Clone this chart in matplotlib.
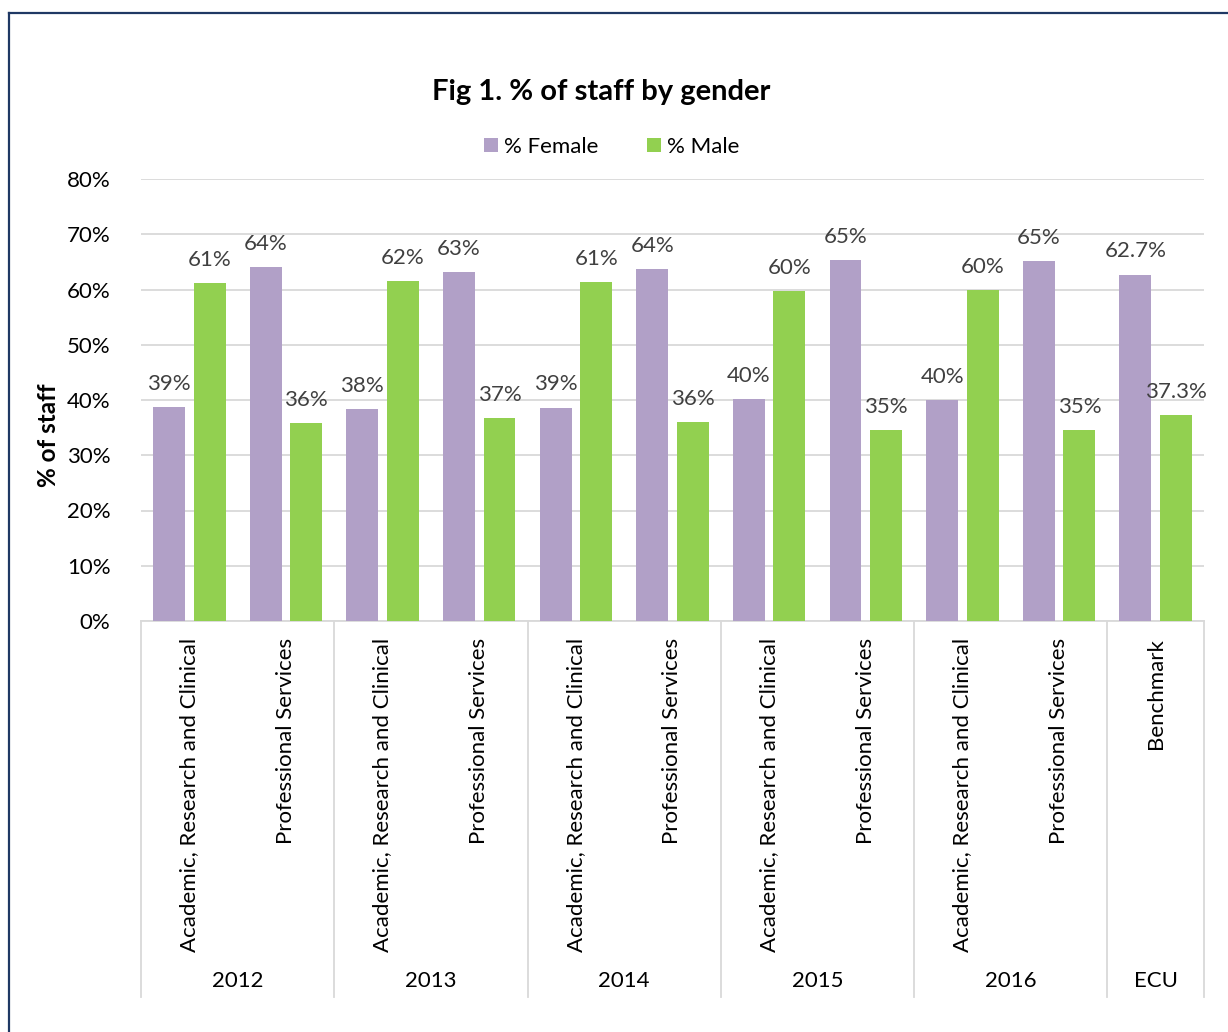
import matplotlib.pyplot as plt
import matplotlib.transforms as mtransforms
from matplotlib.lines import Line2D
import numpy as np

# data
groups = ['2012', '2013', '2014', '2015', '2016', 'ECU']
group_sizes = [2, 2, 2, 2, 2, 1]
categories = ['Academic, Research and Clinical', 'Professional Services'] * 5 + ['Benchmark']
female = [38.7, 64.1, 38.4, 63.2, 38.6, 63.7, 40.2, 65.3, 40.0, 65.2, 62.7]
male = [61.2, 35.8, 61.5, 36.7, 61.4, 36.0, 59.7, 34.6, 59.9, 34.6, 37.3]
label_decimals = [0] * 10 + [1]

c_female = '#B1A0C7'
c_male = '#92D050'

plt.rcParams['font.family'] = ['Lato', 'DejaVu Sans']

fig = plt.figure(figsize=(12.28, 10.32), dpi=100)
ax = fig.add_axes([141/1228, 1 - 621/1032, (1204-141)/1228, (621-179)/1032])

x = np.arange(len(categories))
w = 0.33
off = 0.21
ax.bar(x - off, female, w, color=c_female, label='% Female', zorder=3)
ax.bar(x + off, male, w, color=c_male, label='% Male', zorder=3)

for xi, f, m, d in zip(x, female, male, label_decimals):
    ax.text(xi - off, f + 2.4, f'{f:.{d}f}%', ha='center', va='bottom', fontsize=16, color='#404040')
    ax.text(xi + off, m + 2.4, f'{m:.{d}f}%', ha='center', va='bottom', fontsize=16, color='#404040')

ax.set_xlim(-0.5, len(categories) - 0.5)
ax.set_ylim(0, 80)
ax.set_yticks(range(0, 81, 10))
ax.set_yticklabels([f'{v}%' for v in range(0, 81, 10)], fontsize=16)
ax.yaxis.grid(True, color='#D9D9D9', linewidth=1.3, zorder=0)
ax.tick_params(axis='y', length=0, pad=22)
for s in ['top', 'right', 'left']:
    ax.spines[s].set_visible(False)
ax.spines['bottom'].set_color('#D9D9D9')
ax.spines['bottom'].set_linewidth(1.3)

ax.set_xticks(x)
ax.set_xticklabels(categories, rotation=90, fontsize=16, va='top', ha='center')
ax.tick_params(axis='x', length=0, pad=12)

# group level of the category axis
trans = mtransforms.blended_transform_factory(ax.transData, ax.transAxes)
bottom = -(997 - 621) / (621 - 179)
start = -0.5
edges = [start]
for g, n in zip(groups, group_sizes):
    end = start + n
    ax.text((start + end) / 2, -(981 - 621) / (621 - 179), g, transform=trans,
            ha='center', va='center', fontsize=16)
    start = end
    edges.append(end)
for e in edges:
    ax.add_line(Line2D([e, e], [0, bottom], transform=trans, color='#D9D9D9',
                       linewidth=1.3, clip_on=False))

ax.set_ylabel('% of staff', fontsize=17.5, fontweight='bold')
ax.yaxis.set_label_coords((60 - 141) / 1063, (621 - 435) / 442)
fig.text(601/1228, 1 - 92/1032, 'Fig 1. % of staff by gender', ha='center', va='center',
         fontsize=21, fontweight='bold')
ax.legend(loc='center', bbox_to_anchor=(612/1228, 1 - 147/1032), bbox_transform=fig.transFigure,
          ncol=2, frameon=False, fontsize=16, handlelength=0.6, handleheight=0.6,
          columnspacing=2.2, handletextpad=0.3)

# outer frame
fig.add_artist(Line2D([9/1228, 9/1228], [0, 1 - 13/1032], transform=fig.transFigure,
                      color='#1F3864', linewidth=1.6))
fig.add_artist(Line2D([9/1228, 1], [1 - 13/1032, 1 - 13/1032], transform=fig.transFigure,
                      color='#1F3864', linewidth=1.6))

fig.savefig('out.png', dpi=100)
